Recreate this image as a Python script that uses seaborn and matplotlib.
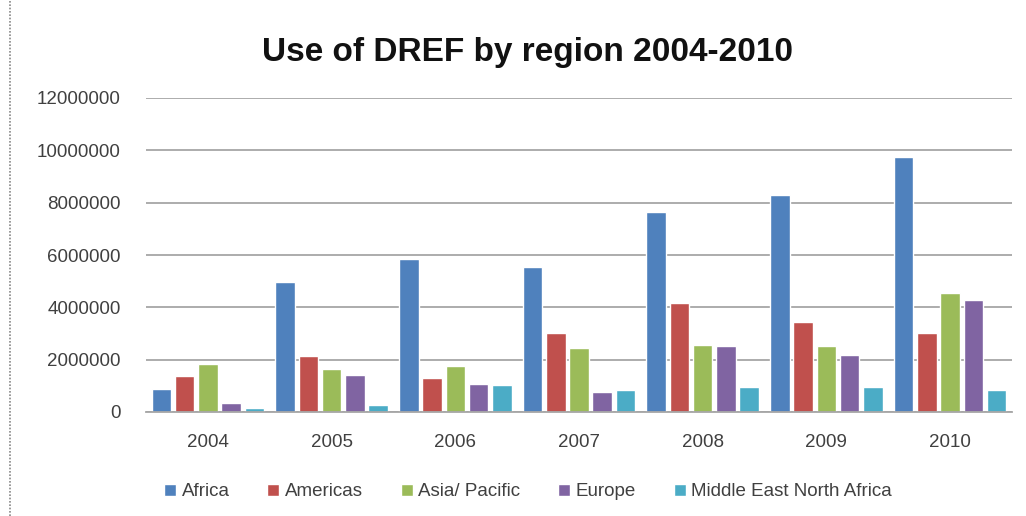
import matplotlib
matplotlib.use("Agg")
import matplotlib.pyplot as plt
from matplotlib.lines import Line2D
import seaborn as sns
import pandas as pd

years = ["2004", "2005", "2006", "2007", "2008", "2009", "2010"]
regions = ["Africa", "Americas", "Asia/ Pacific", "Europe", "Middle East North Africa"]
africa = [870000, 4960000, 5830000, 5540000, 7640000, 8280000, 9760000]
americas = [1380000, 2140000, 1300000, 3030000, 4170000, 3440000, 3030000]
asia_pacific = [1820000, 1630000, 1760000, 2450000, 2570000, 2510000, 4560000]
europe = [360000, 1400000, 1080000, 760000, 2510000, 2190000, 4280000]
mena = [140000, 280000, 1030000, 830000, 960000, 960000, 840000]
colors = ["#4F81BD", "#C0504D", "#9BBB59", "#8064A2", "#4BACC6"]
yticks = [0, 2000000, 4000000, 6000000, 8000000, 10000000, 12000000]

series = [africa, americas, asia_pacific, europe, mena]
rows = []
for reg, vals in zip(regions, series):
    for y, v in zip(years, vals):
        rows.append({"Year": y, "Region": reg, "Value": v})
df = pd.DataFrame(rows)

sns.set_theme(style="white")
plt.rcParams["font.family"] = ["Liberation Sans", "DejaVu Sans"]

fig = plt.figure(figsize=(10.26, 5.16), dpi=100)
ax = fig.add_axes([146 / 1026, 1 - 412 / 516, (1012 - 146) / 1026, (412 - 98) / 516])

sns.barplot(data=df, x="Year", y="Value", hue="Region", order=years,
            hue_order=regions, palette=colors, width=0.94, gap=0.16,
            saturation=1, errorbar=None, ax=ax, legend=True)

ax.set_ylim(0, 12000000)
ax.set_yticks(yticks)
ax.set_yticklabels([str(t) for t in yticks])
ax.yaxis.grid(True, color="#A6A6A6", linewidth=1.3)
ax.set_axisbelow(True)
for s in ["top", "right", "left"]:
    ax.spines[s].set_visible(False)
ax.spines["bottom"].set_color("#A6A6A6")
ax.spines["bottom"].set_linewidth(1.3)
ax.tick_params(axis="both", length=0, labelsize=13.5, colors="#404040")
ax.tick_params(axis="y", pad=18)
ax.tick_params(axis="x", pad=16)
ax.set_xlabel("")
ax.set_ylabel("")
ax.set_xlim(-0.5, 6.5)

handles, labels = ax.get_legend_handles_labels()
ax.legend_.remove()
fig.legend(handles, labels, loc="center", bbox_to_anchor=(528 / 1026, 1 - 492 / 516),
           ncol=5, frameon=False, fontsize=13.5, handlelength=0.65, handleheight=0.65,
           handletextpad=0.3, columnspacing=2.0, labelcolor="#404040")

fig.text(527 / 1026, 1 - 53 / 516, "Use of DREF by region 2004-2010", ha="center",
         va="center", fontsize=24, fontweight="bold", color="#111111")

fig.add_artist(Line2D([10 / 1026, 10 / 1026], [0, 1], transform=fig.transFigure,
                      color="#888888", linestyle=(0, (1, 1)), linewidth=1.2))

fig.savefig("out.png", dpi=100)
